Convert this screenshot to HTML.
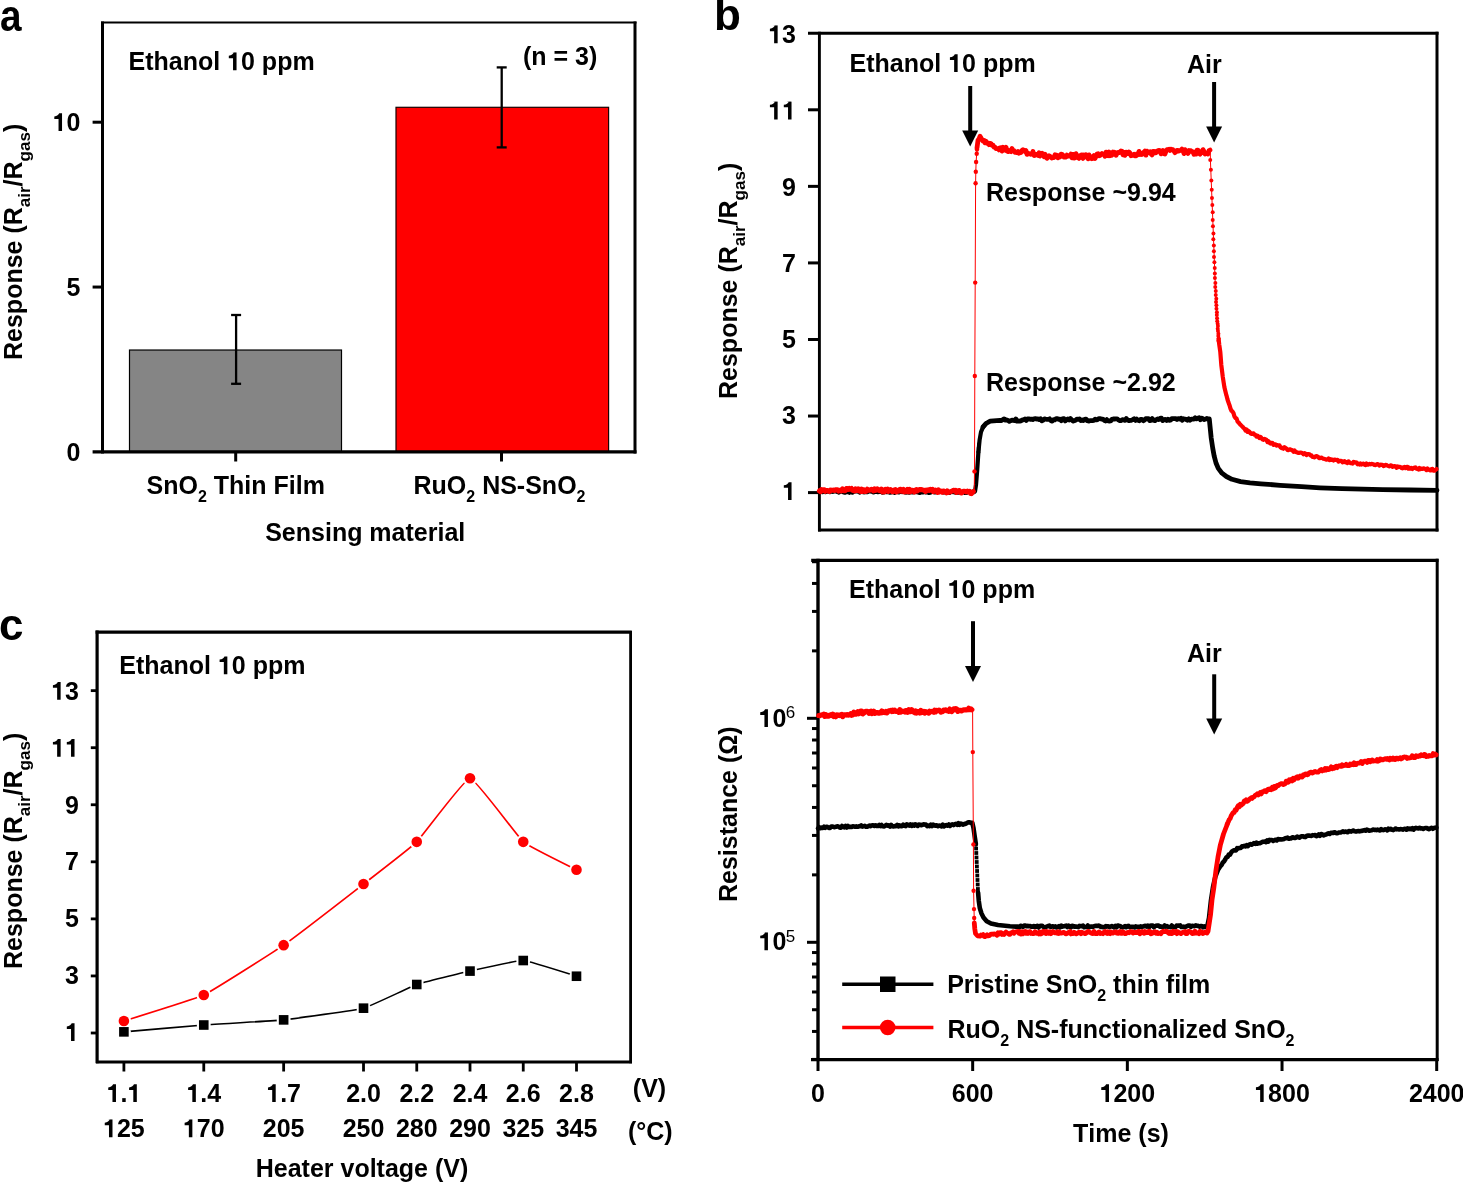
<!DOCTYPE html>
<html><head><meta charset="utf-8"><style>
html,body{margin:0;padding:0;background:#fff;}
svg{display:block;will-change:transform;}
text{font-family:"Liberation Sans",sans-serif;font-weight:bold;fill:#000;font-kerning:none;}
</style></head><body>
<svg width="1463" height="1183" viewBox="0 0 1463 1183">
<rect width="1463" height="1183" fill="#fff"/>
<text x="0.50" y="30.00" font-size="44" text-anchor="start" transform="translate(-0.4,0.8) scale(0.88,1)">a</text>
<text x="714.00" y="30.20" font-size="44" text-anchor="start" >b</text>
<text x="-1.00" y="639.50" font-size="44" text-anchor="start" >c</text>
<rect x="129.5" y="350.02" width="212" height="101.88" fill="#858585" stroke="#000" stroke-width="1.2"/>
<rect x="396" y="107.3" width="212.6" height="344.60" fill="#ff0000" stroke="#1a0000" stroke-width="1.2"/>
<line x1="236.10" y1="315.00" x2="236.10" y2="383.80" stroke="#000" stroke-width="2.3" stroke-linecap="butt"/>
<line x1="231.10" y1="315.00" x2="241.10" y2="315.00" stroke="#000" stroke-width="2.3" stroke-linecap="butt"/>
<line x1="231.10" y1="383.80" x2="241.10" y2="383.80" stroke="#000" stroke-width="2.3" stroke-linecap="butt"/>
<line x1="501.70" y1="67.40" x2="501.70" y2="147.40" stroke="#000" stroke-width="2.3" stroke-linecap="butt"/>
<line x1="496.70" y1="67.40" x2="506.70" y2="67.40" stroke="#000" stroke-width="2.3" stroke-linecap="butt"/>
<line x1="496.70" y1="147.40" x2="506.70" y2="147.40" stroke="#000" stroke-width="2.3" stroke-linecap="butt"/>
<line x1="101.00" y1="22.50" x2="636.50" y2="22.50" stroke="#000" stroke-width="2.0" stroke-linecap="butt"/>
<line x1="635.00" y1="21.50" x2="635.00" y2="453.40" stroke="#000" stroke-width="3" stroke-linecap="butt"/>
<line x1="102.50" y1="21.50" x2="102.50" y2="453.40" stroke="#000" stroke-width="3" stroke-linecap="butt"/>
<line x1="92.60" y1="451.90" x2="636.50" y2="451.90" stroke="#000" stroke-width="3.1" stroke-linecap="butt"/>
<line x1="92.60" y1="287.05" x2="101.00" y2="287.05" stroke="#000" stroke-width="3" stroke-linecap="butt"/>
<line x1="92.60" y1="122.20" x2="101.00" y2="122.20" stroke="#000" stroke-width="3" stroke-linecap="butt"/>
<text x="80.40" y="460.80" font-size="25" text-anchor="end" >0</text>
<text x="80.40" y="295.95" font-size="25" text-anchor="end" >5</text>
<text x="80.40" y="131.10" font-size="25" text-anchor="end" >10</text>
<line x1="235.70" y1="451.90" x2="235.70" y2="461.50" stroke="#000" stroke-width="3" stroke-linecap="butt"/>
<line x1="501.50" y1="451.90" x2="501.50" y2="461.50" stroke="#000" stroke-width="3" stroke-linecap="butt"/>
<text x="146.50" y="494.20" font-size="25" text-anchor="start" >SnO<tspan font-size="16" dy="7.8">2</tspan><tspan dy="-7.8"> Thin Film</tspan></text>
<text x="413.50" y="494.20" font-size="25" text-anchor="start" >RuO<tspan font-size="16" dy="7.8">2</tspan><tspan dy="-7.8"> NS-SnO</tspan><tspan font-size="16" dy="7.8">2</tspan></text>
<text x="265.20" y="541.20" font-size="25" text-anchor="start" >Sensing material</text>
<text x="128.50" y="70.30" font-size="25" text-anchor="start" >Ethanol 10 ppm</text>
<text x="523.00" y="64.90" font-size="25" text-anchor="start" >(n = 3)</text>
<text transform="translate(21.50,360.00) rotate(-90)" x="0" y="0" font-size="25">Response (R<tspan font-size="17" dy="8.5">air</tspan><tspan dy="-8.5">/R</tspan><tspan font-size="17" dy="8.5">gas</tspan><tspan dy="-8.5">)</tspan></text>
<line x1="808.00" y1="33.20" x2="1438.50" y2="33.20" stroke="#000" stroke-width="3" stroke-linecap="butt"/>
<line x1="1437.00" y1="31.70" x2="1437.00" y2="531.50" stroke="#000" stroke-width="3" stroke-linecap="butt"/>
<line x1="819.40" y1="31.70" x2="819.40" y2="531.50" stroke="#000" stroke-width="2.9" stroke-linecap="butt"/>
<line x1="818.00" y1="530.00" x2="1438.50" y2="530.00" stroke="#000" stroke-width="3.2" stroke-linecap="butt"/>
<line x1="808.00" y1="492.60" x2="818.50" y2="492.60" stroke="#000" stroke-width="3" stroke-linecap="butt"/>
<line x1="808.00" y1="416.04" x2="818.50" y2="416.04" stroke="#000" stroke-width="3" stroke-linecap="butt"/>
<line x1="808.00" y1="339.48" x2="818.50" y2="339.48" stroke="#000" stroke-width="3" stroke-linecap="butt"/>
<line x1="808.00" y1="262.92" x2="818.50" y2="262.92" stroke="#000" stroke-width="3" stroke-linecap="butt"/>
<line x1="808.00" y1="186.36" x2="818.50" y2="186.36" stroke="#000" stroke-width="3" stroke-linecap="butt"/>
<line x1="808.00" y1="109.80" x2="818.50" y2="109.80" stroke="#000" stroke-width="3" stroke-linecap="butt"/>
<text x="796.00" y="499.90" font-size="25" text-anchor="end" >1</text>
<text x="796.00" y="423.81" font-size="25" text-anchor="end" >3</text>
<text x="796.00" y="347.71" font-size="25" text-anchor="end" >5</text>
<text x="796.00" y="271.62" font-size="25" text-anchor="end" >7</text>
<text x="796.00" y="195.52" font-size="25" text-anchor="end" >9</text>
<text x="796.00" y="119.43" font-size="25" text-anchor="end" >11</text>
<text x="796.00" y="43.34" font-size="25" text-anchor="end" >13</text>
<text transform="translate(736.5,399) rotate(-90)" x="0" y="0" font-size="25">Response (R<tspan font-size="17" dy="8.5">air</tspan><tspan dy="-8.5">/R</tspan><tspan font-size="17" dy="8.5">gas</tspan><tspan dy="-8.5">)</tspan></text>
<text x="849.60" y="72.00" font-size="25" text-anchor="start" >Ethanol 10 ppm</text>
<text x="1187.00" y="73.20" font-size="25" text-anchor="start" >Air</text>
<text x="986.00" y="201.00" font-size="25" text-anchor="start" >Response ~9.94</text>
<text x="986.00" y="391.40" font-size="25" text-anchor="start" >Response ~2.92</text>
<line x1="970.20" y1="86.00" x2="970.20" y2="132.60" stroke="#000" stroke-width="4" stroke-linecap="butt"/>
<polygon points="962.20,130.60 978.20,130.60 970.20,146.60" fill="#000"/>
<line x1="1214.10" y1="82.00" x2="1214.10" y2="128.50" stroke="#000" stroke-width="4" stroke-linecap="butt"/>
<polygon points="1206.10,126.50 1222.10,126.50 1214.10,142.50" fill="#000"/>
<polyline points="819.40,491.72 820.90,491.44 822.40,492.25 823.90,491.32 825.40,492.07 826.90,491.79 828.40,491.30 829.90,492.03 831.40,491.28 832.90,491.91 834.40,491.33 835.90,491.37 837.40,491.90 838.90,492.55 840.40,491.43 841.90,491.59 843.40,492.23 844.90,492.75 846.40,492.16 847.90,491.87 849.40,492.80 850.90,491.32 852.40,492.62 853.90,491.71 855.40,491.48 856.90,491.44 858.40,491.74 859.90,492.56 861.40,491.54 862.90,492.19 864.40,492.28 865.90,491.86 867.40,492.14 868.90,491.36 870.40,491.36 871.90,491.60 873.40,492.36 874.90,491.96 876.40,491.78 877.90,492.21 879.40,492.00 880.90,491.76 882.40,492.55 883.90,492.40 885.40,491.68 886.90,492.21 888.40,492.13 889.90,492.69 891.40,492.46 892.90,491.76 894.40,492.86 895.90,491.49 897.40,491.97 898.90,492.51 900.40,491.55 901.90,492.09 903.40,491.37 904.90,492.38 906.40,492.54 907.90,492.23 909.40,492.72 910.90,491.82 912.40,492.43 913.90,492.27 915.40,492.25 916.90,492.06 918.40,492.67 919.90,492.84 921.40,492.09 922.90,492.40 924.40,491.43 925.90,492.46 927.40,492.37 928.90,492.93 930.40,492.66 931.90,491.80 933.40,491.96 934.90,492.42 936.40,491.39 937.90,492.09 939.40,491.62 940.90,491.54 942.40,491.45 943.90,492.59 945.40,491.57 946.90,491.76 948.40,491.99 949.90,492.76 951.40,491.50 952.90,492.09 954.40,492.25 955.90,492.79 957.40,492.69 958.90,492.76 960.40,491.83 961.90,492.05 963.40,491.96 964.90,492.80 966.40,492.92 967.90,491.63 969.40,491.67 970.90,491.77 972.40,491.77 973.90,492.17 975.00,491.50 976.00,485.00 977.20,470.00 978.40,452.00" fill="none" stroke="#000" stroke-width="4.2" stroke-linejoin="round" stroke-linecap="round" />
<polyline points="983.10,426.90 986.00,423.50 990.20,421.20 1000.00,420.30 1001.50,420.52 1002.80,419.66 1004.10,418.97 1005.40,420.04 1006.70,419.89 1008.00,420.39 1009.30,421.39 1010.60,420.69 1011.90,420.22 1013.20,420.47 1014.50,420.61 1015.80,418.98 1017.10,421.17 1018.40,420.84 1019.70,421.08 1021.00,420.86 1022.30,419.80 1023.60,419.80 1024.90,419.02 1026.20,420.39 1027.50,418.89 1028.80,418.89 1030.10,419.24 1031.40,419.11 1032.70,419.56 1034.00,418.80 1035.30,418.65 1036.60,419.03 1037.90,418.88 1039.20,419.55 1040.50,418.66 1041.80,420.86 1043.10,420.17 1044.40,418.94 1045.70,419.20 1047.00,419.43 1048.30,419.46 1049.60,418.82 1050.90,420.71 1052.20,421.08 1053.50,419.71 1054.80,419.76 1056.10,418.72 1057.40,418.77 1058.70,419.39 1060.00,419.19 1061.30,420.66 1062.60,418.92 1063.90,418.56 1065.20,420.97 1066.50,419.87 1067.80,418.88 1069.10,419.91 1070.40,418.57 1071.70,419.87 1073.00,421.04 1074.30,420.74 1075.60,420.31 1076.90,419.18 1078.20,419.45 1079.50,418.93 1080.80,420.51 1082.10,419.88 1083.40,420.53 1084.70,419.36 1086.00,419.08 1087.30,420.61 1088.60,421.06 1089.90,420.72 1091.20,420.60 1092.50,420.63 1093.80,420.42 1095.10,419.09 1096.40,419.85 1097.70,419.42 1099.00,418.58 1100.30,418.57 1101.60,419.22 1102.90,419.16 1104.20,420.28 1105.50,420.95 1106.80,419.62 1108.10,420.89 1109.40,421.01 1110.70,420.92 1112.00,419.38 1113.30,418.99 1114.60,419.00 1115.90,418.92 1117.20,418.93 1118.50,420.01 1119.80,420.72 1121.10,420.56 1122.40,419.61 1123.70,420.06 1125.00,420.43 1126.30,418.56 1127.60,420.05 1128.90,420.69 1130.20,420.35 1131.50,420.26 1132.80,419.55 1134.10,418.76 1135.40,420.34 1136.70,419.14 1138.00,420.35 1139.30,420.79 1140.60,419.29 1141.90,419.29 1143.20,420.70 1144.50,420.12 1145.80,418.67 1147.10,418.55 1148.40,418.60 1149.70,420.55 1151.00,420.29 1152.30,418.56 1153.60,420.31 1154.90,420.70 1156.20,419.85 1157.50,419.03 1158.80,419.54 1160.10,418.44 1161.40,418.12 1162.70,420.60 1164.00,419.75 1165.30,419.41 1166.60,420.46 1167.90,419.15 1169.20,420.27 1170.50,420.14 1171.80,418.53 1173.10,418.62 1174.40,418.71 1175.70,418.56 1177.00,419.45 1178.30,418.59 1179.60,418.99 1180.90,418.23 1182.20,420.24 1183.50,418.78 1184.80,419.04 1186.10,419.35 1187.40,420.17 1188.70,418.90 1190.00,420.18 1191.30,419.08 1192.60,419.15 1193.90,419.11 1195.20,417.79 1196.50,418.87 1197.80,418.19 1199.10,417.71 1200.40,419.77 1201.70,418.12 1203.00,418.89 1204.30,419.53 1205.60,419.08 1206.90,418.47 1208.20,418.96 1209.30,419.00 1210.20,428.00 1211.20,438.00 1212.70,448.00 1214.20,456.20 1216.00,463.00 1218.30,468.40 1222.00,473.20 1226.40,476.50 1232.00,479.30 1240.60,481.60 1250.00,482.80 1260.90,483.80 1280.00,485.30 1301.50,486.70 1320.00,487.80 1342.00,488.70 1382.60,489.70 1410.00,490.00 1437.00,490.30" fill="none" stroke="#000" stroke-width="4.8" stroke-linejoin="round" stroke-linecap="round" />
<rect x="976.80" y="447.20" width="3.6" height="3.6" fill="#000"/>
<rect x="977.30" y="442.70" width="3.6" height="3.6" fill="#000"/>
<polyline points="978.40,452.00 979.60,440.00 981.00,432.00 983.10,426.90 986.00,423.50" fill="none" stroke="#000" stroke-width="4.2" stroke-linejoin="round" stroke-linecap="round" />
<polyline points="819.40,490.97 820.40,491.60 821.40,489.51 822.40,490.82 823.40,489.83 824.40,489.87 825.40,491.30 826.40,490.45 827.40,490.56 828.40,491.10 829.40,491.51 830.40,490.05 831.40,490.50 832.40,490.13 833.40,490.10 834.40,490.59 835.40,489.81 836.40,490.00 837.40,489.78 838.40,491.12 839.40,490.34 840.40,490.82 841.40,490.96 842.40,488.86 843.40,489.71 844.40,490.84 845.40,490.56 846.40,488.48 847.40,488.46 848.40,489.44 849.40,488.36 850.40,488.89 851.40,488.42 852.40,490.23 853.40,490.60 854.40,490.97 855.40,488.77 856.40,490.48 857.40,490.34 858.40,488.82 859.40,491.06 860.40,491.34 861.40,489.13 862.40,491.35 863.40,489.72 864.40,490.01 865.40,491.55 866.40,491.10 867.40,489.11 868.40,489.95 869.40,490.23 870.40,489.72 871.40,489.31 872.40,489.70 873.40,490.93 874.40,488.84 875.40,490.47 876.40,490.14 877.40,488.90 878.40,489.85 879.40,490.75 880.40,490.43 881.40,489.11 882.40,491.89 883.40,491.32 884.40,491.89 885.40,489.31 886.40,489.81 887.40,489.15 888.40,491.39 889.40,489.88 890.40,489.48 891.40,490.37 892.40,491.84 893.40,491.57 894.40,489.89 895.40,489.57 896.40,491.89 897.40,490.84 898.40,491.24 899.40,489.41 900.40,489.32 901.40,491.22 902.40,490.43 903.40,489.38 904.40,491.98 905.40,491.08 906.40,491.58 907.40,489.44 908.40,491.76 909.40,489.39 910.40,491.79 911.40,490.57 912.40,490.23 913.40,490.87 914.40,492.00 915.40,490.03 916.40,489.62 917.40,490.82 918.40,489.96 919.40,489.57 920.40,489.74 921.40,489.41 922.40,489.87 923.40,490.20 924.40,490.19 925.40,491.55 926.40,490.15 927.40,490.79 928.40,489.83 929.40,490.34 930.40,489.37 931.40,490.10 932.40,489.43 933.40,491.62 934.40,491.10 935.40,490.05 936.40,490.94 937.40,492.36 938.40,489.91 939.40,492.08 940.40,490.95 941.40,491.17 942.40,492.23 943.40,490.94 944.40,491.31 945.40,491.89 946.40,492.81 947.40,490.92 948.40,492.42 949.40,492.08 950.40,491.90 951.40,491.24 952.40,491.11 953.40,490.26 954.40,490.52 955.40,490.38 956.40,492.42 957.40,491.00 958.40,490.76 959.40,490.56 960.40,492.86 961.40,492.98 962.40,492.42 963.40,491.28 964.40,491.20 965.40,491.39 966.40,491.92 967.40,491.05 968.40,491.95 969.40,491.43 970.40,493.56 971.40,493.63 972.40,492.39 973.40,491.51" fill="none" stroke="#ff0000" stroke-width="5.0" stroke-linejoin="round" stroke-linecap="round" />
<polyline points="974.20,492.30 974.50,471.40 974.80,376.00 975.20,282.60 975.60,183.30 975.80,171.80 976.10,162.00 976.70,153.80 977.20,148.00" fill="none" stroke="#ff0000" stroke-width="1.0" stroke-linejoin="round" stroke-linecap="round" />
<circle cx="974.50" cy="471.40" r="2.2" fill="#ff0000"/>
<circle cx="974.80" cy="376.00" r="2.2" fill="#ff0000"/>
<circle cx="975.20" cy="282.60" r="2.2" fill="#ff0000"/>
<circle cx="975.60" cy="183.30" r="2.2" fill="#ff0000"/>
<circle cx="975.80" cy="171.80" r="2.2" fill="#ff0000"/>
<circle cx="976.10" cy="162.00" r="2.2" fill="#ff0000"/>
<circle cx="976.70" cy="153.80" r="2.2" fill="#ff0000"/>
<circle cx="977.00" cy="149.50" r="2.2" fill="#ff0000"/>
<polyline points="977.00,147.95 978.00,140.29 979.00,139.01 980.00,136.31 981.00,137.82 982.00,139.57 983.00,141.01 984.00,140.42 985.00,142.74 986.00,141.20 987.00,143.30 988.00,142.89 989.00,144.71 990.00,143.32 991.00,143.55 992.00,145.23 993.00,145.22 994.00,147.17 995.00,147.16 996.00,148.48 997.00,148.29 998.00,148.83 999.00,149.87 1000.00,147.78 1001.00,147.74 1002.00,151.10 1003.00,147.25 1004.00,150.16 1005.00,149.92 1006.00,147.20 1007.00,151.15 1008.00,151.58 1009.00,150.46 1010.00,151.12 1011.00,151.64 1012.00,148.55 1013.00,150.54 1014.00,150.59 1015.00,152.32 1016.00,152.31 1017.00,152.56 1018.00,151.54 1019.00,153.16 1020.00,152.29 1021.00,152.49 1022.00,150.40 1023.00,149.65 1024.00,150.35 1025.00,151.64 1026.00,150.62 1027.00,154.33 1028.00,153.20 1029.00,153.74 1030.00,153.94 1031.00,154.40 1032.00,153.69 1033.00,151.52 1034.00,155.49 1035.00,155.40 1036.00,154.37 1037.00,154.68 1038.00,155.43 1039.00,152.73 1040.00,156.10 1041.00,153.93 1042.00,153.22 1043.00,154.29 1044.00,156.67 1045.00,154.31 1046.00,157.02 1047.00,158.31 1048.00,156.15 1049.00,155.76 1050.00,156.38 1051.00,157.51 1052.00,158.06 1053.00,157.45 1054.00,157.52 1055.00,154.75 1056.00,155.04 1057.00,155.49 1058.00,157.79 1059.00,155.63 1060.00,156.84 1061.00,154.12 1062.00,154.30 1063.00,155.24 1064.00,157.12 1065.00,157.17 1066.00,157.04 1067.00,155.13 1068.00,156.16 1069.00,155.86 1070.00,155.82 1071.00,154.09 1072.00,157.76 1073.00,154.37 1074.00,158.13 1075.00,157.99 1076.00,153.63 1077.00,155.80 1078.00,157.59 1079.00,158.35 1080.00,155.92 1081.00,155.10 1082.00,154.87 1083.00,158.46 1084.00,154.99 1085.00,156.82 1086.00,154.76 1087.00,156.65 1088.00,158.76 1089.00,154.88 1090.00,158.23 1091.00,156.79 1092.00,158.66 1093.00,157.83 1094.00,155.57 1095.00,158.57 1096.00,156.39 1097.00,153.98 1098.00,153.68 1099.00,155.82 1100.00,155.42 1101.00,154.51 1102.00,153.54 1103.00,154.31 1104.00,153.98 1105.00,156.29 1106.00,152.07 1107.00,155.46 1108.00,155.69 1109.00,152.04 1110.00,155.71 1111.00,154.48 1112.00,155.19 1113.00,152.05 1114.00,152.25 1115.00,152.32 1116.00,155.28 1117.00,153.36 1118.00,152.31 1119.00,152.68 1120.00,152.00 1121.00,150.96 1122.00,151.26 1123.00,154.83 1124.00,152.24 1125.00,155.41 1126.00,152.17 1127.00,152.30 1128.00,153.52 1129.00,152.03 1130.00,152.96 1131.00,155.80 1132.00,155.51 1133.00,155.21 1134.00,154.39 1135.00,155.77 1136.00,155.83 1137.00,153.89 1138.00,154.64 1139.00,151.35 1140.00,154.56 1141.00,153.14 1142.00,154.52 1143.00,153.93 1144.00,152.15 1145.00,150.94 1146.00,155.08 1147.00,151.18 1148.00,152.77 1149.00,152.08 1150.00,151.79 1151.00,153.84 1152.00,154.91 1153.00,151.41 1154.00,153.24 1155.00,151.46 1156.00,152.62 1157.00,151.75 1158.00,150.58 1159.00,150.47 1160.00,150.61 1161.00,153.88 1162.00,151.83 1163.00,150.42 1164.00,153.63 1165.00,153.98 1166.00,151.27 1167.00,149.70 1168.00,149.87 1169.00,149.30 1170.00,150.42 1171.00,149.14 1172.00,149.76 1173.00,149.77 1174.00,151.18 1175.00,152.63 1176.00,151.91 1177.00,150.38 1178.00,150.47 1179.00,151.08 1180.00,150.46 1181.00,150.35 1182.00,149.11 1183.00,150.23 1184.00,153.62 1185.00,149.67 1186.00,151.56 1187.00,152.25 1188.00,153.45 1189.00,150.43 1190.00,150.78 1191.00,150.75 1192.00,151.56 1193.00,151.87 1194.00,154.39 1195.00,153.97 1196.00,154.16 1197.00,150.06 1198.00,150.06 1199.00,153.25 1200.00,154.09 1201.00,152.00 1202.00,152.49 1203.00,149.62 1204.00,151.44 1205.00,153.95 1206.00,153.41 1207.00,153.50 1208.00,154.00 1209.00,150.56 1210.00,150.07" fill="none" stroke="#ff0000" stroke-width="4.8" stroke-linejoin="round" stroke-linecap="round" />
<polyline points="1210.30,152.00 1210.40,160.00 1213.20,230.00 1215.10,280.00 1216.90,314.30 1218.70,341.50" fill="none" stroke="#ff0000" stroke-width="1.0" stroke-linejoin="round" stroke-linecap="round" />
<circle cx="1210.23" cy="160.00" r="2.0" fill="#ff0000"/>
<circle cx="1210.89" cy="169.87" r="2.0" fill="#ff0000"/>
<circle cx="1211.33" cy="180.46" r="2.0" fill="#ff0000"/>
<circle cx="1211.72" cy="189.73" r="2.0" fill="#ff0000"/>
<circle cx="1211.95" cy="198.09" r="2.0" fill="#ff0000"/>
<circle cx="1212.34" cy="205.06" r="2.0" fill="#ff0000"/>
<circle cx="1212.70" cy="212.20" r="2.0" fill="#ff0000"/>
<circle cx="1212.70" cy="219.98" r="2.0" fill="#ff0000"/>
<circle cx="1212.93" cy="226.29" r="2.0" fill="#ff0000"/>
<circle cx="1213.43" cy="233.38" r="2.0" fill="#ff0000"/>
<circle cx="1213.33" cy="239.13" r="2.0" fill="#ff0000"/>
<circle cx="1213.83" cy="245.41" r="2.0" fill="#ff0000"/>
<circle cx="1213.87" cy="251.17" r="2.0" fill="#ff0000"/>
<circle cx="1213.98" cy="257.04" r="2.0" fill="#ff0000"/>
<circle cx="1214.40" cy="262.15" r="2.0" fill="#ff0000"/>
<circle cx="1214.72" cy="268.07" r="2.0" fill="#ff0000"/>
<circle cx="1214.84" cy="273.57" r="2.0" fill="#ff0000"/>
<circle cx="1214.89" cy="277.89" r="2.0" fill="#ff0000"/>
<circle cx="1215.36" cy="283.01" r="2.0" fill="#ff0000"/>
<circle cx="1215.23" cy="287.02" r="2.0" fill="#ff0000"/>
<circle cx="1215.77" cy="291.11" r="2.0" fill="#ff0000"/>
<circle cx="1215.76" cy="294.91" r="2.0" fill="#ff0000"/>
<circle cx="1216.30" cy="298.83" r="2.0" fill="#ff0000"/>
<circle cx="1216.03" cy="302.09" r="2.0" fill="#ff0000"/>
<circle cx="1216.39" cy="305.33" r="2.0" fill="#ff0000"/>
<circle cx="1216.46" cy="308.77" r="2.0" fill="#ff0000"/>
<circle cx="1216.91" cy="312.15" r="2.0" fill="#ff0000"/>
<circle cx="1216.81" cy="315.11" r="2.0" fill="#ff0000"/>
<circle cx="1217.07" cy="318.33" r="2.0" fill="#ff0000"/>
<circle cx="1217.23" cy="321.26" r="2.0" fill="#ff0000"/>
<circle cx="1217.65" cy="323.64" r="2.0" fill="#ff0000"/>
<circle cx="1217.91" cy="326.08" r="2.0" fill="#ff0000"/>
<circle cx="1217.70" cy="328.68" r="2.0" fill="#ff0000"/>
<circle cx="1217.97" cy="331.06" r="2.0" fill="#ff0000"/>
<circle cx="1218.41" cy="333.79" r="2.0" fill="#ff0000"/>
<circle cx="1218.29" cy="336.12" r="2.0" fill="#ff0000"/>
<circle cx="1218.74" cy="338.49" r="2.0" fill="#ff0000"/>
<circle cx="1218.43" cy="340.81" r="2.0" fill="#ff0000"/>
<polyline points="1218.60,339.00 1219.30,345.00 1220.30,352.00 1221.30,364.90 1222.80,377.00 1224.40,387.30 1226.30,395.00 1226.50,395.41 1227.50,399.51 1228.50,402.56 1229.50,405.14 1230.50,408.55 1231.50,410.82 1232.50,411.53 1233.50,413.16 1234.50,416.57 1235.50,417.99 1236.50,418.36 1237.50,421.43 1238.50,422.39 1239.50,423.64 1240.50,424.82 1241.50,425.75 1242.50,426.68 1243.50,427.93 1244.50,428.71 1245.50,430.55 1246.50,429.52 1247.50,431.84 1248.50,430.96 1249.50,431.90 1250.50,433.40 1251.50,433.90 1252.50,433.63 1253.50,433.36 1254.50,434.72 1255.50,435.02 1256.50,436.62 1257.50,435.67 1258.50,436.52 1259.50,438.09 1260.50,436.86 1261.50,438.12 1262.50,439.41 1263.50,439.82 1264.50,438.86 1265.50,439.34 1266.50,439.89 1267.50,442.10 1268.50,441.27 1269.50,442.75 1270.50,443.50 1271.50,442.79 1272.50,443.07 1273.50,444.85 1274.50,444.58 1275.50,444.28 1276.50,445.60 1277.50,445.21 1278.50,445.54 1279.50,445.41 1280.50,447.32 1281.50,448.02 1282.50,447.76 1283.50,448.68 1284.50,447.14 1285.50,447.86 1286.50,448.64 1287.50,449.91 1288.50,450.20 1289.50,449.37 1290.50,449.40 1291.50,450.05 1292.50,450.48 1293.50,451.65 1294.50,450.46 1295.50,452.00 1296.50,452.17 1297.50,452.64 1298.50,452.84 1299.50,452.81 1300.50,452.56 1301.50,452.84 1302.50,453.17 1303.50,454.27 1304.50,453.11 1305.50,453.60 1306.50,454.96 1307.50,454.20 1308.50,454.09 1309.50,454.28 1310.50,455.57 1311.50,455.36 1312.50,456.92 1313.50,456.98 1314.50,457.44 1315.50,456.25 1316.50,456.14 1317.50,456.41 1318.50,457.47 1319.50,458.14 1320.50,457.87 1321.50,457.69 1322.50,458.24 1323.50,458.79 1324.50,459.05 1325.50,459.35 1326.50,459.69 1327.50,459.48 1328.50,458.54 1329.50,460.13 1330.50,459.18 1331.50,459.87 1332.50,459.64 1333.50,460.51 1334.50,459.58 1335.50,459.83 1336.50,459.97 1337.50,459.94 1338.50,461.55 1339.50,461.09 1340.50,460.73 1341.50,461.02 1342.50,462.35 1343.50,461.51 1344.50,461.10 1345.50,462.38 1346.50,462.21 1347.50,463.01 1348.50,461.37 1349.50,462.25 1350.50,463.07 1351.50,463.24 1352.50,463.53 1353.50,461.91 1354.50,462.55 1355.50,462.33 1356.50,462.61 1357.50,464.31 1358.50,463.66 1359.50,464.49 1360.50,463.51 1361.50,464.63 1362.50,463.91 1363.50,463.60 1364.50,464.71 1365.50,465.11 1366.50,463.50 1367.50,464.55 1368.50,464.67 1369.50,463.93 1370.50,464.30 1371.50,463.92 1372.50,464.11 1373.50,464.28 1374.50,465.04 1375.50,465.21 1376.50,464.39 1377.50,464.07 1378.50,464.77 1379.50,465.54 1380.50,464.63 1381.50,464.95 1382.50,464.80 1383.50,466.08 1384.50,465.68 1385.50,464.81 1386.50,464.99 1387.50,465.67 1388.50,466.08 1389.50,466.36 1390.50,465.36 1391.50,465.60 1392.50,466.77 1393.50,466.29 1394.50,466.14 1395.50,466.29 1396.50,467.68 1397.50,466.49 1398.50,467.10 1399.50,466.78 1400.50,467.00 1401.50,467.99 1402.50,468.35 1403.50,467.18 1404.50,466.93 1405.50,468.07 1406.50,467.10 1407.50,466.79 1408.50,468.66 1409.50,467.79 1410.50,468.66 1411.50,467.92 1412.50,468.95 1413.50,468.19 1414.50,467.67 1415.50,467.46 1416.50,468.62 1417.50,468.88 1418.50,469.50 1419.50,467.94 1420.50,469.08 1421.50,468.65 1422.50,468.99 1423.50,468.34 1424.50,468.68 1425.50,469.23 1426.50,470.11 1427.50,468.55 1428.50,469.38 1429.50,470.08 1430.50,470.47 1431.50,469.01 1432.50,468.94 1433.50,470.64 1434.50,470.77 1435.50,469.86 1436.50,469.07" fill="none" stroke="#ff0000" stroke-width="4.2" stroke-linejoin="round" stroke-linecap="round" />
<line x1="811.20" y1="560.40" x2="1438.50" y2="560.40" stroke="#000" stroke-width="3.4" stroke-linecap="butt"/>
<line x1="1437.20" y1="558.70" x2="1437.20" y2="1061.00" stroke="#000" stroke-width="3" stroke-linecap="butt"/>
<line x1="818.00" y1="558.70" x2="818.00" y2="1061.00" stroke="#000" stroke-width="3.4" stroke-linecap="butt"/>
<line x1="811.00" y1="1059.60" x2="1438.50" y2="1059.60" stroke="#000" stroke-width="3.4" stroke-linecap="butt"/>
<line x1="812.00" y1="1059.42" x2="817.00" y2="1059.42" stroke="#000" stroke-width="3" stroke-linecap="butt"/>
<line x1="812.00" y1="1031.44" x2="817.00" y2="1031.44" stroke="#000" stroke-width="3" stroke-linecap="butt"/>
<line x1="812.00" y1="1009.73" x2="817.00" y2="1009.73" stroke="#000" stroke-width="3" stroke-linecap="butt"/>
<line x1="812.00" y1="991.99" x2="817.00" y2="991.99" stroke="#000" stroke-width="3" stroke-linecap="butt"/>
<line x1="812.00" y1="977.00" x2="817.00" y2="977.00" stroke="#000" stroke-width="3" stroke-linecap="butt"/>
<line x1="812.00" y1="964.01" x2="817.00" y2="964.01" stroke="#000" stroke-width="3" stroke-linecap="butt"/>
<line x1="812.00" y1="952.55" x2="817.00" y2="952.55" stroke="#000" stroke-width="3" stroke-linecap="butt"/>
<line x1="807.00" y1="942.30" x2="817.00" y2="942.30" stroke="#000" stroke-width="3" stroke-linecap="butt"/>
<line x1="812.00" y1="874.87" x2="817.00" y2="874.87" stroke="#000" stroke-width="3" stroke-linecap="butt"/>
<line x1="812.00" y1="835.42" x2="817.00" y2="835.42" stroke="#000" stroke-width="3" stroke-linecap="butt"/>
<line x1="812.00" y1="807.44" x2="817.00" y2="807.44" stroke="#000" stroke-width="3" stroke-linecap="butt"/>
<line x1="812.00" y1="785.73" x2="817.00" y2="785.73" stroke="#000" stroke-width="3" stroke-linecap="butt"/>
<line x1="812.00" y1="767.99" x2="817.00" y2="767.99" stroke="#000" stroke-width="3" stroke-linecap="butt"/>
<line x1="812.00" y1="753.00" x2="817.00" y2="753.00" stroke="#000" stroke-width="3" stroke-linecap="butt"/>
<line x1="812.00" y1="740.01" x2="817.00" y2="740.01" stroke="#000" stroke-width="3" stroke-linecap="butt"/>
<line x1="812.00" y1="728.55" x2="817.00" y2="728.55" stroke="#000" stroke-width="3" stroke-linecap="butt"/>
<line x1="807.00" y1="718.30" x2="817.00" y2="718.30" stroke="#000" stroke-width="3" stroke-linecap="butt"/>
<line x1="812.00" y1="650.87" x2="817.00" y2="650.87" stroke="#000" stroke-width="3" stroke-linecap="butt"/>
<line x1="812.00" y1="611.42" x2="817.00" y2="611.42" stroke="#000" stroke-width="3" stroke-linecap="butt"/>
<line x1="812.00" y1="583.44" x2="817.00" y2="583.44" stroke="#000" stroke-width="3" stroke-linecap="butt"/>
<line x1="812.00" y1="561.73" x2="817.00" y2="561.73" stroke="#000" stroke-width="3" stroke-linecap="butt"/>
<text x="786.30" y="727.00" font-size="25" text-anchor="end" >10</text>
<text x="785.80" y="718.40" font-size="17" text-anchor="start" style="font-weight:normal">6</text>
<text x="786.30" y="950.30" font-size="25" text-anchor="end" >10</text>
<text x="785.80" y="942.00" font-size="17" text-anchor="start" style="font-weight:normal">5</text>
<text transform="translate(736.5,902) rotate(-90)" x="0" y="0" font-size="25">Resistance (Ω)</text>
<line x1="818.00" y1="1059.60" x2="818.00" y2="1071.00" stroke="#000" stroke-width="3" stroke-linecap="butt"/>
<text x="818.00" y="1102.00" font-size="25" text-anchor="middle" >0</text>
<line x1="972.67" y1="1059.60" x2="972.67" y2="1071.00" stroke="#000" stroke-width="3" stroke-linecap="butt"/>
<text x="972.67" y="1102.00" font-size="25" text-anchor="middle" >600</text>
<line x1="1127.35" y1="1059.60" x2="1127.35" y2="1071.00" stroke="#000" stroke-width="3" stroke-linecap="butt"/>
<text x="1127.35" y="1102.00" font-size="25" text-anchor="middle" >1200</text>
<line x1="1282.03" y1="1059.60" x2="1282.03" y2="1071.00" stroke="#000" stroke-width="3" stroke-linecap="butt"/>
<text x="1282.03" y="1102.00" font-size="25" text-anchor="middle" >1800</text>
<line x1="1436.70" y1="1059.60" x2="1436.70" y2="1071.00" stroke="#000" stroke-width="3" stroke-linecap="butt"/>
<text x="1436.70" y="1102.00" font-size="25" text-anchor="middle" >2400</text>
<text x="1121.00" y="1142.00" font-size="25" text-anchor="middle" >Time (s)</text>
<text x="849.00" y="597.90" font-size="25" text-anchor="start" >Ethanol 10 ppm</text>
<text x="1187.00" y="661.90" font-size="25" text-anchor="start" >Air</text>
<line x1="973.00" y1="621.20" x2="973.00" y2="668.00" stroke="#000" stroke-width="4" stroke-linecap="butt"/>
<polygon points="965.00,666.00 981.00,666.00 973.00,682.00" fill="#000"/>
<line x1="1214.20" y1="674.30" x2="1214.20" y2="720.60" stroke="#000" stroke-width="4" stroke-linecap="butt"/>
<polygon points="1206.20,718.60 1222.20,718.60 1214.20,734.60" fill="#000"/>
<line x1="842.20" y1="984.20" x2="933.40" y2="984.20" stroke="#000" stroke-width="3.4" stroke-linecap="butt"/>
<rect x="880" y="976.5" width="15.5" height="15.5" fill="#000"/>
<line x1="842.20" y1="1027.50" x2="933.40" y2="1027.50" stroke="#ff0000" stroke-width="3.4" stroke-linecap="butt"/>
<circle cx="887.7" cy="1027.5" r="7.8" fill="#ff0000"/>
<text x="947.20" y="993.00" font-size="25" text-anchor="start" >Pristine SnO<tspan font-size="16" dy="7.8">2</tspan><tspan dy="-7.8"> thin film</tspan></text>
<text x="947.50" y="1038.20" font-size="25" text-anchor="start" >RuO<tspan font-size="16" dy="7.8">2</tspan><tspan dy="-7.8"> NS-functionalized SnO</tspan><tspan font-size="16" dy="7.8">2</tspan></text>
<polyline points="818.00,828.35 819.20,827.25 820.40,828.25 821.60,827.65 822.80,828.03 824.00,826.67 825.20,827.89 826.40,826.73 827.60,827.07 828.80,827.92 830.00,827.86 831.20,826.53 832.40,826.57 833.60,826.91 834.80,827.11 836.00,826.81 837.20,826.26 838.40,826.48 839.60,827.41 840.80,827.72 842.00,825.98 843.20,826.99 844.40,827.35 845.60,825.88 846.80,827.45 848.00,825.98 849.20,826.91 850.40,826.79 851.60,826.91 852.80,826.24 854.00,826.43 855.20,826.73 856.40,826.39 857.60,826.82 858.80,826.37 860.00,826.32 861.20,825.46 862.40,826.62 863.60,826.33 864.80,825.79 866.00,826.82 867.20,826.82 868.40,826.14 869.60,825.55 870.80,826.11 872.00,825.34 873.20,825.35 874.40,825.93 875.60,825.22 876.80,825.88 878.00,825.99 879.20,825.02 880.40,826.18 881.60,825.04 882.80,826.31 884.00,826.36 885.20,825.80 886.40,824.85 887.60,825.72 888.80,825.43 890.00,826.55 891.20,824.88 892.40,826.29 893.60,826.54 894.80,825.98 896.00,826.11 897.20,824.84 898.40,826.38 899.60,825.37 900.80,826.27 902.00,826.15 903.20,824.62 904.40,825.83 905.60,826.09 906.80,824.32 908.00,824.86 909.20,825.64 910.40,824.41 911.60,825.86 912.80,824.58 914.00,825.63 915.20,824.32 916.40,825.06 917.60,825.92 918.80,824.52 920.00,824.66 921.20,825.17 922.40,824.82 923.60,824.28 924.80,824.60 926.00,824.58 927.20,826.16 928.40,825.67 929.60,826.13 930.80,824.70 932.00,825.96 933.20,824.65 934.40,825.50 935.60,825.74 936.80,825.21 938.00,826.26 939.20,825.65 940.40,825.73 941.60,826.36 942.80,824.72 944.00,826.40 945.20,825.57 946.40,824.99 947.60,825.70 948.80,824.53 950.00,825.88 951.20,824.95 952.40,824.41 953.60,825.12 954.80,824.37 956.00,823.73 957.20,824.76 958.40,823.27 959.60,824.71 960.80,823.48 962.00,824.14 963.20,824.73 964.40,823.83 965.60,823.88 966.80,823.08 968.00,822.35 969.20,822.31 970.40,822.44 971.60,823.18 972.30,822.80 973.50,828.00 974.50,835.00 975.90,844.40" fill="none" stroke="#000" stroke-width="4.6" stroke-linejoin="round" stroke-linecap="round" />
<rect x="974.20" y="846.60" width="3.8" height="3.8" fill="#000"/>
<rect x="974.40" y="851.10" width="3.8" height="3.8" fill="#000"/>
<rect x="974.60" y="855.60" width="3.8" height="3.8" fill="#000"/>
<rect x="974.80" y="860.10" width="3.8" height="3.8" fill="#000"/>
<rect x="975.00" y="864.60" width="3.8" height="3.8" fill="#000"/>
<rect x="975.20" y="869.10" width="3.8" height="3.8" fill="#000"/>
<rect x="975.40" y="873.60" width="3.8" height="3.8" fill="#000"/>
<rect x="975.60" y="878.10" width="3.8" height="3.8" fill="#000"/>
<rect x="975.80" y="882.60" width="3.8" height="3.8" fill="#000"/>
<rect x="976.00" y="887.10" width="3.8" height="3.8" fill="#000"/>
<rect x="976.20" y="890.70" width="3.8" height="3.8" fill="#000"/>
<polyline points="978.10,892.60 978.80,901.00 979.80,908.00 981.50,913.50 983.50,917.50 986.70,921.20 991.00,923.50 998.00,925.00 1010.00,926.20 1016.00,926.60 1017.00,926.46 1018.20,926.62 1019.40,927.39 1020.60,925.86 1021.80,926.05 1023.00,926.90 1024.20,925.63 1025.40,925.59 1026.60,926.30 1027.80,925.80 1029.00,926.30 1030.20,926.03 1031.40,926.75 1032.60,926.76 1033.80,925.99 1035.00,926.83 1036.20,926.53 1037.40,925.84 1038.60,927.45 1039.80,926.06 1041.00,925.87 1042.20,925.76 1043.40,926.84 1044.60,927.31 1045.80,927.13 1047.00,926.37 1048.20,926.09 1049.40,925.58 1050.60,926.85 1051.80,926.68 1053.00,926.26 1054.20,926.85 1055.40,926.44 1056.60,927.43 1057.80,927.02 1059.00,926.05 1060.20,927.35 1061.40,925.63 1062.60,926.61 1063.80,926.36 1065.00,926.02 1066.20,925.66 1067.40,927.10 1068.60,925.56 1069.80,926.64 1071.00,927.42 1072.20,925.82 1073.40,925.93 1074.60,926.75 1075.80,926.54 1077.00,926.81 1078.20,927.15 1079.40,925.87 1080.60,926.14 1081.80,926.12 1083.00,925.62 1084.20,927.30 1085.40,927.08 1086.60,926.95 1087.80,925.53 1089.00,927.20 1090.20,927.00 1091.40,926.44 1092.60,926.99 1093.80,926.41 1095.00,925.96 1096.20,925.72 1097.40,925.97 1098.60,925.58 1099.80,926.17 1101.00,927.00 1102.20,926.89 1103.40,927.18 1104.60,926.91 1105.80,926.02 1107.00,926.59 1108.20,926.36 1109.40,927.06 1110.60,926.53 1111.80,926.01 1113.00,926.76 1114.20,927.40 1115.40,925.91 1116.60,927.23 1117.80,925.50 1119.00,925.99 1120.20,925.93 1121.40,926.95 1122.60,927.35 1123.80,926.95 1125.00,926.11 1126.20,927.21 1127.40,926.11 1128.60,925.93 1129.80,927.26 1131.00,926.70 1132.20,926.83 1133.40,926.77 1134.60,927.39 1135.80,926.37 1137.00,927.11 1138.20,926.82 1139.40,927.14 1140.60,926.30 1141.80,926.87 1143.00,926.56 1144.20,926.03 1145.40,925.84 1146.60,926.66 1147.80,925.57 1149.00,927.23 1150.20,925.70 1151.40,925.46 1152.60,925.62 1153.80,927.26 1155.00,926.09 1156.20,925.68 1157.40,925.45 1158.60,925.47 1159.80,926.77 1161.00,926.65 1162.20,926.78 1163.40,926.86 1164.60,925.51 1165.80,926.56 1167.00,926.10 1168.20,927.01 1169.40,927.01 1170.60,927.15 1171.80,925.50 1173.00,927.10 1174.20,927.19 1175.40,927.25 1176.60,925.57 1177.80,925.77 1179.00,925.58 1180.20,925.42 1181.40,927.04 1182.60,926.97 1183.80,926.61 1185.00,926.99 1186.20,926.60 1187.40,925.91 1188.60,925.53 1189.80,925.53 1191.00,926.85 1192.20,925.74 1193.40,925.96 1194.60,926.17 1195.80,925.36 1197.00,925.83 1198.20,925.88 1199.40,926.75 1200.60,926.05 1201.80,925.95 1203.00,927.24 1204.20,926.31 1205.40,927.01 1206.60,926.54 1207.30,926.30 1209.00,918.00 1211.00,900.00 1213.00,887.00 1215.20,877.20 1218.00,870.00" fill="none" stroke="#000" stroke-width="4.6" stroke-linejoin="round" stroke-linecap="round" />
<polyline points="1218.00,869.16 1219.20,867.99 1220.40,866.18 1221.60,864.95 1222.80,862.53 1224.00,861.51 1225.20,859.56 1226.40,857.32 1227.60,857.09 1228.80,854.59 1230.00,854.78 1231.20,852.50 1232.40,851.08 1233.60,850.32 1234.80,850.51 1236.00,850.38 1237.20,848.11 1238.40,848.47 1239.60,847.95 1240.80,847.98 1242.00,846.36 1243.20,846.44 1244.40,845.88 1245.60,846.46 1246.80,845.14 1248.00,846.07 1249.20,844.59 1250.40,844.17 1251.60,844.75 1252.80,844.10 1254.00,843.14 1255.20,843.84 1256.40,842.60 1257.60,843.63 1258.80,843.22 1260.00,843.14 1261.20,842.61 1262.40,841.88 1263.60,841.71 1264.80,841.46 1266.00,842.11 1267.20,840.42 1268.40,841.64 1269.60,839.92 1270.80,840.07 1272.00,840.00 1273.20,840.98 1274.40,840.09 1275.60,839.70 1276.80,840.43 1278.00,839.09 1279.20,839.33 1280.40,839.29 1281.60,839.52 1282.80,839.34 1284.00,838.98 1285.20,838.29 1286.40,838.12 1287.60,837.68 1288.80,838.80 1290.00,838.34 1291.20,838.36 1292.40,837.21 1293.60,837.56 1294.80,838.04 1296.00,837.56 1297.20,836.62 1298.40,837.10 1299.60,837.74 1300.80,836.45 1302.00,836.25 1303.20,836.33 1304.40,836.94 1305.60,837.08 1306.80,835.72 1308.00,835.61 1309.20,835.65 1310.40,835.68 1311.60,835.92 1312.80,835.15 1314.00,835.33 1315.20,834.97 1316.40,836.26 1317.60,835.67 1318.80,834.38 1320.00,835.78 1321.20,834.07 1322.40,834.43 1323.60,835.35 1324.80,834.85 1326.00,834.59 1327.20,833.89 1328.40,833.31 1329.60,833.95 1330.80,832.84 1332.00,832.86 1333.20,833.03 1334.40,832.24 1335.60,832.74 1336.80,833.29 1338.00,832.96 1339.20,832.46 1340.40,832.54 1341.60,832.08 1342.80,831.34 1344.00,832.02 1345.20,831.50 1346.40,831.95 1347.60,832.10 1348.80,831.14 1350.00,831.34 1351.20,831.59 1352.40,830.94 1353.60,830.53 1354.80,831.36 1356.00,831.58 1357.20,831.33 1358.40,831.14 1359.60,831.35 1360.80,830.98 1362.00,830.85 1363.20,830.45 1364.40,830.14 1365.60,830.64 1366.80,829.63 1368.00,830.15 1369.20,830.74 1370.40,830.55 1371.60,830.34 1372.80,829.60 1374.00,829.85 1375.20,829.85 1376.40,830.09 1377.60,829.64 1378.80,830.06 1380.00,830.47 1381.20,829.08 1382.40,829.90 1383.60,830.08 1384.80,829.35 1386.00,829.49 1387.20,830.33 1388.40,828.61 1389.60,829.48 1390.80,828.76 1392.00,829.84 1393.20,830.09 1394.40,829.30 1395.60,828.51 1396.80,829.33 1398.00,829.23 1399.20,829.51 1400.40,829.11 1401.60,829.30 1402.80,829.61 1404.00,829.02 1405.20,828.78 1406.40,829.71 1407.60,828.35 1408.80,829.17 1410.00,828.61 1411.20,829.25 1412.40,828.07 1413.60,829.59 1414.80,828.43 1416.00,827.87 1417.20,828.23 1418.40,828.43 1419.60,827.71 1420.80,828.41 1422.00,828.39 1423.20,828.86 1424.40,828.21 1425.60,828.03 1426.80,827.93 1428.00,828.83 1429.20,829.16 1430.40,828.39 1431.60,827.81 1432.80,828.83 1434.00,828.07 1435.20,827.72 1436.40,827.54" fill="none" stroke="#000" stroke-width="4.6" stroke-linejoin="round" stroke-linecap="round" />
<polyline points="818.80,715.53 819.80,715.68 820.80,715.21 821.80,714.77 822.80,715.10 823.80,714.15 824.80,716.42 825.80,714.64 826.80,715.55 827.80,716.14 828.80,716.19 829.80,715.20 830.80,714.73 831.80,715.55 832.80,714.33 833.80,716.51 834.80,715.13 835.80,716.67 836.80,714.97 837.80,715.35 838.80,715.04 839.80,715.61 840.80,714.94 841.80,714.45 842.80,716.66 843.80,715.14 844.80,714.80 845.80,714.74 846.80,715.04 847.80,714.66 848.80,715.05 849.80,714.89 850.80,713.77 851.80,715.24 852.80,714.78 853.80,712.16 854.80,714.24 855.80,714.25 856.80,713.65 857.80,711.69 858.80,713.72 859.80,713.09 860.80,711.20 861.80,711.16 862.80,713.94 863.80,713.02 864.80,711.76 865.80,711.28 866.80,711.37 867.80,711.61 868.80,713.20 869.80,711.87 870.80,711.26 871.80,713.47 872.80,713.10 873.80,711.19 874.80,713.33 875.80,712.44 876.80,712.93 877.80,712.55 878.80,713.19 879.80,712.84 880.80,712.96 881.80,711.00 882.80,712.45 883.80,711.92 884.80,712.52 885.80,711.57 886.80,712.86 887.80,711.84 888.80,710.92 889.80,710.79 890.80,710.46 891.80,711.48 892.80,710.14 893.80,711.32 894.80,710.31 895.80,711.31 896.80,711.29 897.80,711.37 898.80,712.30 899.80,709.69 900.80,712.15 901.80,710.99 902.80,711.23 903.80,711.50 904.80,711.98 905.80,710.55 906.80,710.69 907.80,712.37 908.80,709.78 909.80,711.53 910.80,711.58 911.80,709.82 912.80,711.63 913.80,711.91 914.80,712.72 915.80,710.97 916.80,712.99 917.80,711.64 918.80,711.62 919.80,712.92 920.80,710.39 921.80,712.51 922.80,712.29 923.80,711.49 924.80,713.12 925.80,711.70 926.80,712.08 927.80,712.30 928.80,713.09 929.80,711.27 930.80,711.70 931.80,711.42 932.80,711.58 933.80,712.16 934.80,710.32 935.80,711.77 936.80,710.47 937.80,710.75 938.80,710.03 939.80,710.70 940.80,712.08 941.80,711.10 942.80,711.48 943.80,710.07 944.80,710.01 945.80,709.93 946.80,710.76 947.80,710.88 948.80,711.30 949.80,709.04 950.80,711.06 951.80,711.53 952.80,710.48 953.80,708.97 954.80,709.68 955.80,708.72 956.80,709.19 957.80,711.30 958.80,710.29 959.80,710.35 960.80,710.67 961.80,710.95 962.80,709.98 963.80,709.91 964.80,709.86 965.80,709.99 966.80,709.61 967.80,709.79 968.80,708.30 969.80,709.59 970.80,708.88 971.80,709.68" fill="none" stroke="#ff0000" stroke-width="5.2" stroke-linejoin="round" stroke-linecap="round" />
<polyline points="972.60,709.50 972.80,752.10 973.40,844.40 973.60,890.70 974.00,909.10 974.20,918.00 974.30,923.00" fill="none" stroke="#ff0000" stroke-width="1.0" stroke-linejoin="round" stroke-linecap="round" />
<circle cx="972.80" cy="752.10" r="2.2" fill="#ff0000"/>
<circle cx="973.40" cy="844.40" r="2.2" fill="#ff0000"/>
<circle cx="973.60" cy="890.70" r="2.2" fill="#ff0000"/>
<circle cx="974.00" cy="909.10" r="2.2" fill="#ff0000"/>
<circle cx="974.20" cy="918.00" r="2.2" fill="#ff0000"/>
<polyline points="974.30,923.00 974.80,929.00 975.50,933.50 977.50,935.80 980.00,936.20 981.00,935.02 982.00,935.09 983.00,934.58 984.00,936.35 985.00,936.58 986.00,935.77 987.00,934.90 988.00,935.95 989.00,935.73 990.00,935.01 991.00,934.09 992.00,934.08 993.00,934.26 994.00,933.86 995.00,934.02 996.00,934.48 997.00,935.15 998.00,932.77 999.00,934.02 1000.00,932.55 1001.00,932.67 1002.00,934.38 1003.00,933.68 1004.00,934.48 1005.00,933.16 1006.00,931.99 1007.00,932.91 1008.00,933.39 1009.00,934.24 1010.00,934.30 1011.00,932.94 1012.00,932.72 1013.00,931.87 1014.00,933.23 1015.00,932.05 1016.00,931.89 1017.00,931.54 1018.00,931.51 1019.00,933.27 1020.00,931.80 1021.00,934.00 1022.00,931.71 1023.00,933.74 1024.00,931.81 1025.00,931.52 1026.00,933.34 1027.00,932.10 1028.00,933.38 1029.00,931.95 1030.00,931.60 1031.00,933.47 1032.00,933.32 1033.00,933.68 1034.00,933.35 1035.00,931.67 1036.00,933.09 1037.00,933.29 1038.00,932.64 1039.00,933.87 1040.00,932.10 1041.00,933.95 1042.00,933.30 1043.00,931.46 1044.00,931.47 1045.00,933.12 1046.00,933.55 1047.00,931.63 1048.00,932.23 1049.00,933.32 1050.00,931.85 1051.00,933.65 1052.00,932.68 1053.00,931.57 1054.00,932.36 1055.00,932.90 1056.00,932.54 1057.00,933.16 1058.00,931.78 1059.00,933.47 1060.00,932.34 1061.00,933.07 1062.00,933.03 1063.00,932.47 1064.00,932.39 1065.00,933.43 1066.00,933.84 1067.00,933.42 1068.00,932.85 1069.00,932.13 1070.00,931.53 1071.00,933.90 1072.00,933.19 1073.00,933.51 1074.00,932.22 1075.00,932.93 1076.00,933.90 1077.00,933.52 1078.00,932.91 1079.00,932.15 1080.00,932.46 1081.00,933.65 1082.00,932.32 1083.00,933.12 1084.00,932.90 1085.00,933.67 1086.00,933.43 1087.00,932.07 1088.00,931.33 1089.00,932.01 1090.00,932.42 1091.00,932.85 1092.00,933.44 1093.00,933.62 1094.00,931.42 1095.00,933.48 1096.00,933.42 1097.00,933.56 1098.00,932.79 1099.00,932.01 1100.00,933.51 1101.00,933.40 1102.00,933.08 1103.00,933.67 1104.00,932.19 1105.00,931.51 1106.00,932.73 1107.00,933.36 1108.00,931.81 1109.00,933.23 1110.00,933.70 1111.00,931.89 1112.00,932.86 1113.00,933.04 1114.00,932.48 1115.00,931.81 1116.00,931.93 1117.00,933.22 1118.00,933.33 1119.00,932.46 1120.00,931.49 1121.00,933.36 1122.00,933.27 1123.00,931.86 1124.00,932.76 1125.00,933.59 1126.00,933.55 1127.00,932.61 1128.00,932.49 1129.00,932.78 1130.00,931.74 1131.00,931.74 1132.00,931.71 1133.00,933.06 1134.00,932.18 1135.00,932.70 1136.00,932.28 1137.00,932.58 1138.00,931.62 1139.00,931.34 1140.00,933.82 1141.00,932.20 1142.00,931.50 1143.00,932.87 1144.00,933.27 1145.00,931.62 1146.00,932.77 1147.00,932.11 1148.00,932.56 1149.00,931.26 1150.00,931.30 1151.00,933.78 1152.00,933.46 1153.00,932.47 1154.00,932.68 1155.00,931.88 1156.00,933.22 1157.00,932.30 1158.00,933.65 1159.00,933.19 1160.00,933.32 1161.00,933.69 1162.00,931.85 1163.00,931.28 1164.00,931.71 1165.00,931.65 1166.00,931.40 1167.00,931.31 1168.00,932.62 1169.00,933.44 1170.00,932.36 1171.00,933.63 1172.00,933.53 1173.00,931.33 1174.00,932.72 1175.00,932.20 1176.00,931.47 1177.00,933.65 1178.00,931.83 1179.00,932.62 1180.00,932.82 1181.00,933.64 1182.00,932.89 1183.00,932.17 1184.00,932.31 1185.00,931.56 1186.00,933.65 1187.00,933.72 1188.00,931.71 1189.00,931.24 1190.00,931.80 1191.00,932.05 1192.00,933.48 1193.00,933.48 1194.00,933.30 1195.00,931.25 1196.00,933.17 1197.00,932.97 1198.00,932.80 1199.00,933.68 1200.00,931.26 1201.00,931.49 1202.00,933.08 1203.00,933.55 1204.00,932.87 1205.00,931.88 1206.00,932.64 1207.00,933.07 1208.00,931.38 1210.50,915.00 1212.00,900.00 1213.70,888.70 1216.00,870.00 1218.00,857.00 1220.40,844.80 1223.50,834.00 1227.20,824.50" fill="none" stroke="#ff0000" stroke-width="4.8" stroke-linejoin="round" stroke-linecap="round" />
<polyline points="1227.20,824.08 1228.20,821.94 1229.20,819.64 1230.20,818.52 1231.20,815.79 1232.20,814.11 1233.20,812.58 1234.20,812.57 1235.20,809.67 1236.20,810.06 1237.20,807.51 1238.20,805.83 1239.20,806.77 1240.20,804.29 1241.20,805.23 1242.20,804.28 1243.20,803.56 1244.20,801.03 1245.20,801.23 1246.20,799.85 1247.20,801.31 1248.20,800.56 1249.20,799.51 1250.20,798.56 1251.20,797.76 1252.20,798.39 1253.20,797.03 1254.20,796.87 1255.20,795.18 1256.20,794.84 1257.20,793.91 1258.20,794.96 1259.20,794.05 1260.20,792.56 1261.20,793.88 1262.20,792.00 1263.20,791.92 1264.20,790.88 1265.20,790.73 1266.20,791.66 1267.20,790.02 1268.20,789.20 1269.20,789.54 1270.20,788.70 1271.20,789.68 1272.20,787.36 1273.20,789.00 1274.20,786.36 1275.20,787.94 1276.20,786.96 1277.20,785.42 1278.20,785.62 1279.20,784.73 1280.20,784.22 1281.20,783.64 1282.20,783.60 1283.20,784.66 1284.20,784.24 1285.20,783.63 1286.20,781.20 1287.20,781.22 1288.20,782.24 1289.20,779.79 1290.20,780.97 1291.20,779.57 1292.20,780.84 1293.20,778.17 1294.20,779.70 1295.20,778.21 1296.20,777.37 1297.20,776.67 1298.20,778.30 1299.20,777.20 1300.20,776.01 1301.20,776.24 1302.20,777.02 1303.20,774.99 1304.20,775.47 1305.20,774.07 1306.20,773.80 1307.20,774.85 1308.20,774.34 1309.20,772.84 1310.20,772.31 1311.20,772.08 1312.20,773.07 1313.20,772.55 1314.20,771.76 1315.20,771.35 1316.20,772.07 1317.20,772.05 1318.20,772.04 1319.20,771.24 1320.20,770.07 1321.20,769.49 1322.20,770.84 1323.20,769.81 1324.20,770.31 1325.20,768.45 1326.20,770.01 1327.20,768.62 1328.20,769.58 1329.20,769.38 1330.20,768.24 1331.20,766.84 1332.20,768.75 1333.20,767.53 1334.20,768.30 1335.20,766.66 1336.20,766.29 1337.20,767.66 1338.20,766.36 1339.20,765.70 1340.20,766.01 1341.20,766.37 1342.20,764.77 1343.20,765.83 1344.20,765.47 1345.20,765.46 1346.20,764.33 1347.20,765.58 1348.20,765.64 1349.20,765.59 1350.20,764.10 1351.20,764.87 1352.20,763.90 1353.20,764.61 1354.20,762.78 1355.20,764.56 1356.20,764.58 1357.20,763.30 1358.20,763.17 1359.20,763.04 1360.20,762.88 1361.20,761.46 1362.20,763.56 1363.20,761.61 1364.20,761.38 1365.20,761.06 1366.20,761.28 1367.20,762.51 1368.20,760.49 1369.20,760.51 1370.20,761.83 1371.20,760.49 1372.20,759.93 1373.20,761.19 1374.20,761.01 1375.20,760.75 1376.20,761.05 1377.20,759.48 1378.20,761.18 1379.20,760.69 1380.20,758.96 1381.20,759.04 1382.20,759.83 1383.20,759.74 1384.20,759.11 1385.20,758.63 1386.20,759.21 1387.20,758.46 1388.20,759.45 1389.20,759.99 1390.20,758.18 1391.20,759.10 1392.20,759.41 1393.20,757.91 1394.20,759.40 1395.20,759.56 1396.20,758.14 1397.20,758.12 1398.20,759.02 1399.20,758.16 1400.20,757.75 1401.20,758.96 1402.20,758.46 1403.20,757.30 1404.20,756.97 1405.20,757.09 1406.20,757.23 1407.20,758.44 1408.20,757.91 1409.20,758.07 1410.20,757.74 1411.20,757.72 1412.20,755.72 1413.20,756.73 1414.20,757.69 1415.20,757.54 1416.20,755.80 1417.20,756.12 1418.20,756.52 1419.20,755.78 1420.20,756.08 1421.20,754.88 1422.20,755.65 1423.20,755.73 1424.20,754.47 1425.20,754.66 1426.20,756.55 1427.20,755.99 1428.20,756.28 1429.20,755.45 1430.20,755.78 1431.20,755.86 1432.20,755.76 1433.20,753.62 1434.20,754.98 1435.20,753.98 1436.20,754.88" fill="none" stroke="#ff0000" stroke-width="4.8" stroke-linejoin="round" stroke-linecap="round" />
<line x1="95.60" y1="632.20" x2="631.80" y2="632.20" stroke="#000" stroke-width="3.2" stroke-linecap="butt"/>
<line x1="630.60" y1="631.00" x2="630.60" y2="1063.30" stroke="#000" stroke-width="2.8" stroke-linecap="butt"/>
<line x1="97.10" y1="630.60" x2="97.10" y2="1063.30" stroke="#000" stroke-width="3.2" stroke-linecap="butt"/>
<line x1="96.00" y1="1062.00" x2="632.00" y2="1062.00" stroke="#000" stroke-width="2.8" stroke-linecap="butt"/>
<line x1="90.80" y1="1033.00" x2="97.00" y2="1033.00" stroke="#000" stroke-width="2.8" stroke-linecap="butt"/>
<text x="79.00" y="1041.10" font-size="25" text-anchor="end" >1</text>
<line x1="90.80" y1="975.94" x2="97.00" y2="975.94" stroke="#000" stroke-width="2.8" stroke-linecap="butt"/>
<text x="79.00" y="984.22" font-size="25" text-anchor="end" >3</text>
<line x1="90.80" y1="918.88" x2="97.00" y2="918.88" stroke="#000" stroke-width="2.8" stroke-linecap="butt"/>
<text x="79.00" y="927.33" font-size="25" text-anchor="end" >5</text>
<line x1="90.80" y1="861.82" x2="97.00" y2="861.82" stroke="#000" stroke-width="2.8" stroke-linecap="butt"/>
<text x="79.00" y="870.44" font-size="25" text-anchor="end" >7</text>
<line x1="90.80" y1="804.76" x2="97.00" y2="804.76" stroke="#000" stroke-width="2.8" stroke-linecap="butt"/>
<text x="79.00" y="813.56" font-size="25" text-anchor="end" >9</text>
<line x1="90.80" y1="747.70" x2="97.00" y2="747.70" stroke="#000" stroke-width="2.8" stroke-linecap="butt"/>
<text x="79.00" y="756.68" font-size="25" text-anchor="end" >11</text>
<line x1="90.80" y1="690.64" x2="97.00" y2="690.64" stroke="#000" stroke-width="2.8" stroke-linecap="butt"/>
<text x="79.00" y="699.79" font-size="25" text-anchor="end" >13</text>
<line x1="123.90" y1="1062.00" x2="123.90" y2="1071.50" stroke="#000" stroke-width="2.8" stroke-linecap="butt"/>
<text x="123.90" y="1102.10" font-size="25" text-anchor="middle" >1.1</text>
<text x="123.90" y="1137.30" font-size="25" text-anchor="middle" >125</text>
<line x1="203.77" y1="1062.00" x2="203.77" y2="1071.50" stroke="#000" stroke-width="2.8" stroke-linecap="butt"/>
<text x="203.77" y="1102.10" font-size="25" text-anchor="middle" >1.4</text>
<text x="203.77" y="1137.30" font-size="25" text-anchor="middle" >170</text>
<line x1="283.64" y1="1062.00" x2="283.64" y2="1071.50" stroke="#000" stroke-width="2.8" stroke-linecap="butt"/>
<text x="283.64" y="1102.10" font-size="25" text-anchor="middle" >1.7</text>
<text x="283.64" y="1137.30" font-size="25" text-anchor="middle" >205</text>
<line x1="363.51" y1="1062.00" x2="363.51" y2="1071.50" stroke="#000" stroke-width="2.8" stroke-linecap="butt"/>
<text x="363.51" y="1102.10" font-size="25" text-anchor="middle" >2.0</text>
<text x="363.51" y="1137.30" font-size="25" text-anchor="middle" >250</text>
<line x1="416.76" y1="1062.00" x2="416.76" y2="1071.50" stroke="#000" stroke-width="2.8" stroke-linecap="butt"/>
<text x="416.76" y="1102.10" font-size="25" text-anchor="middle" >2.2</text>
<text x="416.76" y="1137.30" font-size="25" text-anchor="middle" >280</text>
<line x1="470.01" y1="1062.00" x2="470.01" y2="1071.50" stroke="#000" stroke-width="2.8" stroke-linecap="butt"/>
<text x="470.01" y="1102.10" font-size="25" text-anchor="middle" >2.4</text>
<text x="470.01" y="1137.30" font-size="25" text-anchor="middle" >290</text>
<line x1="523.25" y1="1062.00" x2="523.25" y2="1071.50" stroke="#000" stroke-width="2.8" stroke-linecap="butt"/>
<text x="523.25" y="1102.10" font-size="25" text-anchor="middle" >2.6</text>
<text x="523.25" y="1137.30" font-size="25" text-anchor="middle" >325</text>
<line x1="576.50" y1="1062.00" x2="576.50" y2="1071.50" stroke="#000" stroke-width="2.8" stroke-linecap="butt"/>
<text x="576.50" y="1102.10" font-size="25" text-anchor="middle" >2.8</text>
<text x="576.50" y="1137.30" font-size="25" text-anchor="middle" >345</text>
<text x="649.50" y="1097.00" font-size="25" text-anchor="middle" >(V)</text>
<text x="650.30" y="1139.70" font-size="25" text-anchor="middle" >(°C)</text>
<text x="362.00" y="1177.00" font-size="25" text-anchor="middle" >Heater voltage (V)</text>
<text x="119.30" y="674.20" font-size="25" text-anchor="start" >Ethanol 10 ppm</text>
<text transform="translate(21.5,969) rotate(-90)" x="0" y="0" font-size="25">Response (R<tspan font-size="17" dy="8.5">air</tspan><tspan dy="-8.5">/R</tspan><tspan font-size="17" dy="8.5">gas</tspan><tspan dy="-8.5">)</tspan></text>
<mask id="mblk" maskUnits="userSpaceOnUse" x="0" y="0" width="1463" height="1183"><rect x="0" y="0" width="1463" height="1183" fill="#fff"/><circle cx="123.90" cy="1031.86" r="7.0" fill="#000"/><circle cx="203.77" cy="1025.01" r="7.0" fill="#000"/><circle cx="283.64" cy="1019.88" r="7.0" fill="#000"/><circle cx="363.51" cy="1008.18" r="7.0" fill="#000"/><circle cx="416.76" cy="984.50" r="7.0" fill="#000"/><circle cx="470.01" cy="971.09" r="7.0" fill="#000"/><circle cx="523.25" cy="960.53" r="7.0" fill="#000"/><circle cx="576.50" cy="976.23" r="7.0" fill="#000"/></mask>
<path d="M123.90,1031.86 C127.89,1031.52 195.78,1025.61 203.77,1025.01 C211.76,1024.41 275.65,1020.72 283.64,1019.88 C291.63,1019.03 356.86,1009.95 363.51,1008.18 C370.17,1006.41 411.43,986.35 416.76,984.50 C422.08,982.64 464.68,972.29 470.01,971.09 C475.33,969.89 517.93,960.28 523.25,960.53 C528.58,960.79 573.84,975.44 576.50,976.23" fill="none" stroke="#000" stroke-width="1.6" mask="url(#mblk)"/>
<rect x="119.10" y="1027.06" width="9.6" height="9.6" fill="#000"/>
<rect x="198.97" y="1020.21" width="9.6" height="9.6" fill="#000"/>
<rect x="278.84" y="1015.08" width="9.6" height="9.6" fill="#000"/>
<rect x="358.71" y="1003.38" width="9.6" height="9.6" fill="#000"/>
<rect x="411.96" y="979.70" width="9.6" height="9.6" fill="#000"/>
<rect x="465.21" y="966.29" width="9.6" height="9.6" fill="#000"/>
<rect x="518.45" y="955.73" width="9.6" height="9.6" fill="#000"/>
<rect x="571.70" y="971.43" width="9.6" height="9.6" fill="#000"/>
<mask id="mred" maskUnits="userSpaceOnUse" x="0" y="0" width="1463" height="1183"><rect x="0" y="0" width="1463" height="1183" fill="#fff"/><circle cx="123.90" cy="1021.02" r="7.3" fill="#000"/><circle cx="203.77" cy="995.06" r="7.3" fill="#000"/><circle cx="283.64" cy="945.13" r="7.3" fill="#000"/><circle cx="363.51" cy="884.07" r="7.3" fill="#000"/><circle cx="416.76" cy="841.85" r="7.3" fill="#000"/><circle cx="470.01" cy="778.23" r="7.3" fill="#000"/><circle cx="523.25" cy="841.85" r="7.3" fill="#000"/><circle cx="576.50" cy="869.81" r="7.3" fill="#000"/></mask>
<path d="M123.90,1021.02 C127.89,1019.72 195.78,998.85 203.77,995.06 C211.76,991.26 275.65,950.68 283.64,945.13 C291.63,939.58 356.86,889.24 363.51,884.07 C370.17,878.91 411.43,847.14 416.76,841.85 C422.08,836.56 464.68,778.23 470.01,778.23 C475.33,778.23 517.93,837.27 523.25,841.85 C528.58,846.43 573.84,868.41 576.50,869.81" fill="none" stroke="#ff0000" stroke-width="1.7" mask="url(#mred)"/>
<circle cx="123.90" cy="1021.02" r="5.3" fill="#ff0000"/>
<circle cx="203.77" cy="995.06" r="5.3" fill="#ff0000"/>
<circle cx="283.64" cy="945.13" r="5.3" fill="#ff0000"/>
<circle cx="363.51" cy="884.07" r="5.3" fill="#ff0000"/>
<circle cx="416.76" cy="841.85" r="5.3" fill="#ff0000"/>
<circle cx="470.01" cy="778.23" r="5.3" fill="#ff0000"/>
<circle cx="523.25" cy="841.85" r="5.3" fill="#ff0000"/>
<circle cx="576.50" cy="869.81" r="5.3" fill="#ff0000"/>
<g id="ones"><rect x="53.32" y="112.91" width="13.17" height="19.23" fill="#fff"/><path transform="translate(52.59,131.10) scale(0.01221,-0.01221)" d="M487,0 L774,0 L774,1454 L540,1454 C500,1330 360,1215 141,1200 L141,991 L487,991 Z" fill="#000"/><rect x="227.83" y="52.11" width="13.17" height="19.23" fill="#fff"/><path transform="translate(227.09,70.30) scale(0.01221,-0.01221)" d="M487,0 L774,0 L774,1454 L540,1454 C500,1330 360,1215 141,1200 L141,991 L487,991 Z" fill="#000"/><rect x="782.83" y="481.71" width="13.17" height="19.23" fill="#fff"/><path transform="translate(782.09,499.90) scale(0.01221,-0.01221)" d="M487,0 L774,0 L774,1454 L540,1454 C500,1330 360,1215 141,1200 L141,991 L487,991 Z" fill="#000"/><rect x="768.92" y="101.24" width="13.17" height="19.23" fill="#fff"/><path transform="translate(768.19,119.43) scale(0.01221,-0.01221)" d="M487,0 L774,0 L774,1454 L540,1454 C500,1330 360,1215 141,1200 L141,991 L487,991 Z" fill="#000"/><rect x="782.81" y="101.24" width="13.17" height="19.23" fill="#fff"/><path transform="translate(782.08,119.43) scale(0.01221,-0.01221)" d="M487,0 L774,0 L774,1454 L540,1454 C500,1330 360,1215 141,1200 L141,991 L487,991 Z" fill="#000"/><rect x="768.92" y="25.15" width="13.17" height="19.23" fill="#fff"/><path transform="translate(768.19,43.34) scale(0.01221,-0.01221)" d="M487,0 L774,0 L774,1454 L540,1454 C500,1330 360,1215 141,1200 L141,991 L487,991 Z" fill="#000"/><rect x="948.93" y="53.81" width="13.17" height="19.23" fill="#fff"/><path transform="translate(948.19,72.00) scale(0.01221,-0.01221)" d="M487,0 L774,0 L774,1454 L540,1454 C500,1330 360,1215 141,1200 L141,991 L487,991 Z" fill="#000"/><rect x="759.22" y="708.81" width="13.17" height="19.23" fill="#fff"/><path transform="translate(758.49,727.00) scale(0.01221,-0.01221)" d="M487,0 L774,0 L774,1454 L540,1454 C500,1330 360,1215 141,1200 L141,991 L487,991 Z" fill="#000"/><rect x="759.22" y="932.11" width="13.17" height="19.23" fill="#fff"/><path transform="translate(758.49,950.30) scale(0.01221,-0.01221)" d="M487,0 L774,0 L774,1454 L540,1454 C500,1330 360,1215 141,1200 L141,991 L487,991 Z" fill="#000"/><rect x="1100.27" y="1083.81" width="13.17" height="19.23" fill="#fff"/><path transform="translate(1099.54,1102.00) scale(0.01221,-0.01221)" d="M487,0 L774,0 L774,1454 L540,1454 C500,1330 360,1215 141,1200 L141,991 L487,991 Z" fill="#000"/><rect x="1254.95" y="1083.81" width="13.17" height="19.23" fill="#fff"/><path transform="translate(1254.22,1102.00) scale(0.01221,-0.01221)" d="M487,0 L774,0 L774,1454 L540,1454 C500,1330 360,1215 141,1200 L141,991 L487,991 Z" fill="#000"/><rect x="948.33" y="579.71" width="13.17" height="19.23" fill="#fff"/><path transform="translate(947.59,597.90) scale(0.01221,-0.01221)" d="M487,0 L774,0 L774,1454 L540,1454 C500,1330 360,1215 141,1200 L141,991 L487,991 Z" fill="#000"/><rect x="65.83" y="1022.91" width="13.17" height="19.23" fill="#fff"/><path transform="translate(65.09,1041.10) scale(0.01221,-0.01221)" d="M487,0 L774,0 L774,1454 L540,1454 C500,1330 360,1215 141,1200 L141,991 L487,991 Z" fill="#000"/><rect x="51.92" y="738.49" width="13.17" height="19.23" fill="#fff"/><path transform="translate(51.19,756.68) scale(0.01221,-0.01221)" d="M487,0 L774,0 L774,1454 L540,1454 C500,1330 360,1215 141,1200 L141,991 L487,991 Z" fill="#000"/><rect x="65.81" y="738.49" width="13.17" height="19.23" fill="#fff"/><path transform="translate(65.08,756.68) scale(0.01221,-0.01221)" d="M487,0 L774,0 L774,1454 L540,1454 C500,1330 360,1215 141,1200 L141,991 L487,991 Z" fill="#000"/><rect x="51.92" y="681.60" width="13.17" height="19.23" fill="#fff"/><path transform="translate(51.19,699.79) scale(0.01221,-0.01221)" d="M487,0 L774,0 L774,1454 L540,1454 C500,1330 360,1215 141,1200 L141,991 L487,991 Z" fill="#000"/><rect x="107.25" y="1083.91" width="13.17" height="19.23" fill="#fff"/><path transform="translate(106.52,1102.10) scale(0.01221,-0.01221)" d="M487,0 L774,0 L774,1454 L540,1454 C500,1330 360,1215 141,1200 L141,991 L487,991 Z" fill="#000"/><rect x="128.09" y="1083.91" width="13.17" height="19.23" fill="#fff"/><path transform="translate(127.36,1102.10) scale(0.01221,-0.01221)" d="M487,0 L774,0 L774,1454 L540,1454 C500,1330 360,1215 141,1200 L141,991 L487,991 Z" fill="#000"/><rect x="103.77" y="1119.11" width="13.17" height="19.23" fill="#fff"/><path transform="translate(103.04,1137.30) scale(0.01221,-0.01221)" d="M487,0 L774,0 L774,1454 L540,1454 C500,1330 360,1215 141,1200 L141,991 L487,991 Z" fill="#000"/><rect x="187.12" y="1083.91" width="13.17" height="19.23" fill="#fff"/><path transform="translate(186.39,1102.10) scale(0.01221,-0.01221)" d="M487,0 L774,0 L774,1454 L540,1454 C500,1330 360,1215 141,1200 L141,991 L487,991 Z" fill="#000"/><rect x="183.64" y="1119.11" width="13.17" height="19.23" fill="#fff"/><path transform="translate(182.91,1137.30) scale(0.01221,-0.01221)" d="M487,0 L774,0 L774,1454 L540,1454 C500,1330 360,1215 141,1200 L141,991 L487,991 Z" fill="#000"/><rect x="266.99" y="1083.91" width="13.17" height="19.23" fill="#fff"/><path transform="translate(266.26,1102.10) scale(0.01221,-0.01221)" d="M487,0 L774,0 L774,1454 L540,1454 C500,1330 360,1215 141,1200 L141,991 L487,991 Z" fill="#000"/><rect x="218.63" y="656.01" width="13.17" height="19.23" fill="#fff"/><path transform="translate(217.89,674.20) scale(0.01221,-0.01221)" d="M487,0 L774,0 L774,1454 L540,1454 C500,1330 360,1215 141,1200 L141,991 L487,991 Z" fill="#000"/></g>
</svg>
</body></html>
